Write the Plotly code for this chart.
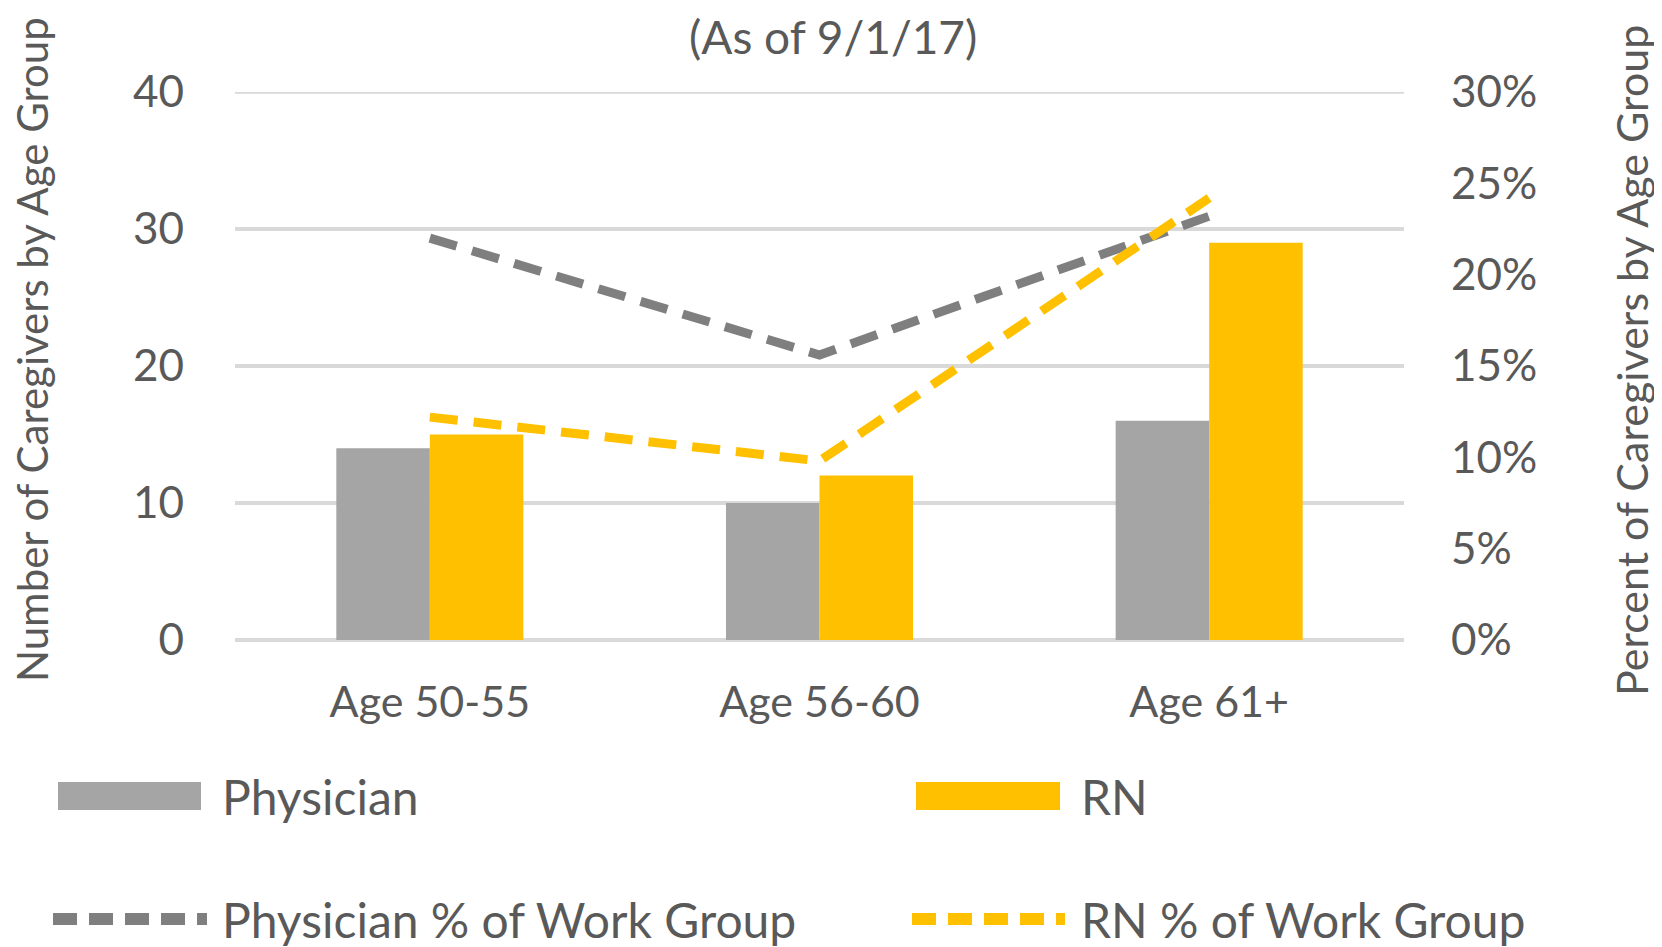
import plotly.graph_objects as go

categories = ["Age 50-55", "Age 56-60", "Age 61+"]
physician_counts = [14, 10, 16]
rn_counts = [15, 12, 29]
physician_pct = [22.0, 15.6, 23.2]
rn_pct = [12.2, 9.8, 24.2]
left_ticks = [0, 10, 20, 30, 40]
right_ticks = [0, 5, 10, 15, 20, 25, 30]
right_tick_labels = ["0%", "5%", "10%", "15%", "20%", "25%", "30%"]

GRAY_BAR = "#A5A5A5"
GOLD = "#FFC000"
GRAY_LINE = "#7F7F7F"
GRID = "#D9D9D9"
TXT = "#595959"
FONT = "Lato"

W, H = 1662, 947
OFF = 8  # page body margin
L, R, T, B = 235 - OFF, 1404 - OFF, 92 - OFF, 640 - OFF


def px(x):
    return (x - OFF - L) / (R - L)


def py(y):
    return (B - (y - OFF)) / (B - T)


fig = go.Figure()
fig.add_trace(go.Bar(x=categories, y=physician_counts, name="Physician",
                     marker=dict(color=GRAY_BAR, line=dict(width=0))))
fig.add_trace(go.Bar(x=categories, y=rn_counts, name="RN",
                     marker=dict(color=GOLD, line=dict(width=0))))
fig.add_trace(go.Scatter(x=categories, y=physician_pct, yaxis="y2", mode="lines",
                         name="Physician % of Work Group",
                         line=dict(color=GRAY_LINE, width=9, dash="28px,16px")))
fig.add_trace(go.Scatter(x=categories, y=rn_pct, yaxis="y2", mode="lines",
                         name="RN % of Work Group",
                         line=dict(color=GOLD, width=9, dash="28px,16px")))

fig.update_layout(
    width=W, height=H,
    margin=dict(l=L, r=W - R, t=T, b=H - B),
    paper_bgcolor="white", plot_bgcolor="white",
    showlegend=False,
    barmode="group", bargap=0.52, bargroupgap=0,
    font=dict(family=FONT, color=TXT, size=43),
    xaxis=dict(showgrid=False, showline=False, ticks="", ticklabelstandoff=33,
               tickfont=dict(size=43, color=TXT, family=FONT)),
    yaxis=dict(range=[0, 40], tickvals=left_ticks, showgrid=True,
               gridcolor=GRID, gridwidth=3.5, zeroline=True,
               zerolinecolor=GRID, zerolinewidth=4, showline=False,
               ticks="", ticklabelstandoff=50,
               tickfont=dict(size=44, color=TXT, family=FONT)),
    yaxis2=dict(range=[0, 30], tickvals=right_ticks, ticktext=right_tick_labels,
                overlaying="y", side="right", showgrid=False, zeroline=False,
                showline=False, ticks="", ticklabelstandoff=46,
                tickfont=dict(size=44, color=TXT, family=FONT)),
)

annotations = [
    dict(text="(As of 9/1/17)", x=px(833), y=py(37), xref="paper", yref="paper",
         showarrow=False, xanchor="center", yanchor="middle",
         font=dict(size=46, color=TXT, family=FONT)),
    dict(text="Number of Caregivers by Age Group", x=px(32), y=py(350),
         xref="paper", yref="paper", showarrow=False, textangle=-90,
         xanchor="center", yanchor="middle",
         font=dict(size=42, color=TXT, family=FONT)),
    dict(text="Percent of Caregivers by Age Group", x=px(1631), y=py(361),
         xref="paper", yref="paper", showarrow=False, textangle=-90,
         xanchor="center", yanchor="middle",
         font=dict(size=43, color=TXT, family=FONT)),
]

# top gridline at the range edge
shapes = [dict(type="line", xref="paper", yref="y", x0=0, x1=1, y0=left_ticks[-1],
               y1=left_ticks[-1], line=dict(color=GRID, width=3.5), layer="below")]

legend_items = [
    ("Physician", "bar", GRAY_BAR, 58, 201, 796, 220),
    ("RN", "bar", GOLD, 916, 1060, 796, 1079),
    ("Physician % of Work Group", "line", GRAY_LINE, 53, 207, 919, 220),
    ("RN % of Work Group", "line", GOLD, 912, 1065, 919, 1079),
]
for label, kind, color, x0, x1, yc, tx in legend_items:
    if kind == "bar":
        shapes.append(dict(type="rect", xref="paper", yref="paper",
                           x0=px(x0), x1=px(x1), y0=py(yc + 14), y1=py(yc - 14),
                           fillcolor=color, line=dict(width=0)))
    else:
        shapes.append(dict(type="line", xref="paper", yref="paper",
                           x0=px(x0), x1=px(x1), y0=py(yc), y1=py(yc),
                           line=dict(color=color, width=12, dash="24px,12px")))
    annotations.append(dict(text=label, x=px(tx), y=py(yc), xref="paper", yref="paper",
                            showarrow=False, xanchor="left", yanchor="middle",
                            font=dict(size=48, color=TXT, family=FONT)))

fig.update_layout(annotations=annotations, shapes=shapes)
fig.write_html("out.html")
